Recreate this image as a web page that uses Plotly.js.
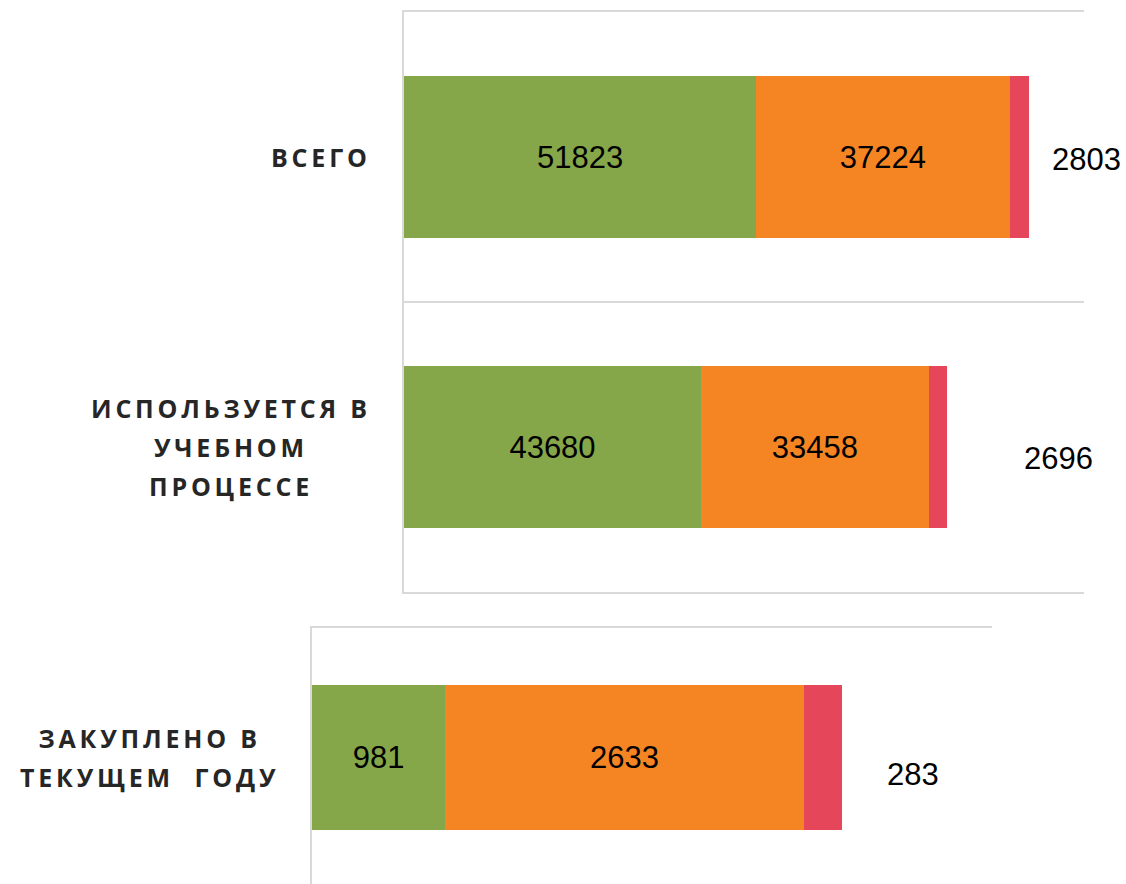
<!DOCTYPE html>
<html>
<head>
<meta charset="utf-8">
<script src="https://cdn.plot.ly/plotly-3.0.1.min.js"></script>
<style>html,body{margin:0;padding:0;background:#fff;}</style>
</head>
<body>
<div id="chart" style="width:1126px;height:884px;"></div>
<script>
// ---- data ----
var topCategories = ['ВСЕГО', 'ИСПОЛЬЗУЕТСЯ В УЧЕБНОМ ПРОЦЕССЕ'];
var topLabelLines = [['ВСЕГО'], ['ИСПОЛЬЗУЕТСЯ В', 'УЧЕБНОМ', 'ПРОЦЕССЕ']];
var topGreen  = [51823, 43680];
var topOrange = [37224, 33458];
var topRed    = [2803, 2696];

var bottomCategories = ['ЗАКУПЛЕНО В ТЕКУЩЕМ ГОДУ'];
var bottomLabelLines = [['ЗАКУПЛЕНО В', 'ТЕКУЩЕМ\u00a0 ГОДУ']];
var bottomGreen  = [981];
var bottomOrange = [2633];
var bottomRed    = [283];

// ---- styles ----
var GREEN = '#86A749', ORANGE = '#F58423', RED = '#E6465A';
var GRID = '#d9d9d9';
var numFont = {family: 'Arial, "Liberation Sans", sans-serif', size: 31, color: '#000000'};
var catFont = {family: '"Open Sans", sans-serif', size: 30, color: '#262626', weight: 'bold'};

function barTrace(x, y, color, withText, xa, ya) {
  var t = {
    type: 'bar', orientation: 'h', x: x, y: y,
    marker: {color: color, line: {width: 0}},
    xaxis: xa, yaxis: ya, hoverinfo: 'none'
  };
  if (withText) {
    t.text = x.map(String);
    t.textposition = 'inside';
    t.insidetextanchor = 'middle';
    t.textangle = 0;
    t.constraintext = 'none';
    t.insidetextfont = numFont;
  } else {
    t.textposition = 'none';
  }
  return t;
}

var traces = [
  barTrace(topGreen, topCategories, GREEN, true, 'x', 'y'),
  barTrace(topOrange, topCategories, ORANGE, true, 'x', 'y'),
  barTrace(topRed, topCategories, RED, false, 'x', 'y'),
  barTrace(bottomGreen, bottomCategories, GREEN, true, 'x2', 'y2'),
  barTrace(bottomOrange, bottomCategories, ORANGE, true, 'x2', 'y2'),
  barTrace(bottomRed, bottomCategories, RED, false, 'x2', 'y2')
];

function catText(lines) {
  return lines.map(function (l) {
    return '<span style="font-size:25px;letter-spacing:3.8px">' + l + '</span>';
  }).join('<br>');
}

var annotations = [];
// category labels
topCategories.forEach(function (c, i) {
  annotations.push({xref: 'x domain', yref: 'y', x: 0, y: c, xanchor: 'right', yanchor: 'middle',
    xshift: -31, align: 'center', showarrow: false, text: catText(topLabelLines[i]), font: catFont});
});
bottomCategories.forEach(function (c, i) {
  annotations.push({xref: 'x2 domain', yref: 'y2', x: 0, y: c, xanchor: 'right', yanchor: 'middle',
    xshift: -31, align: 'center', showarrow: false, text: catText(bottomLabelLines[i]), font: catFont});
});
// red value labels, placed beyond the end of each stacked bar
var topShiftX = [21, 75], topShiftY = [-3, -12];
topCategories.forEach(function (c, i) {
  annotations.push({xref: 'x', yref: 'y', x: topGreen[i] + topOrange[i] + topRed[i], y: c,
    xanchor: 'left', yanchor: 'middle', xshift: topShiftX[i], yshift: topShiftY[i],
    showarrow: false, text: String(topRed[i]), font: numFont});
});
var botShiftX = [43], botShiftY = [-17];
bottomCategories.forEach(function (c, i) {
  annotations.push({xref: 'x2', yref: 'y2', x: bottomGreen[i] + bottomOrange[i] + bottomRed[i], y: c,
    xanchor: 'left', yanchor: 'middle', xshift: botShiftX[i], yshift: botShiftY[i],
    showarrow: false, text: String(bottomRed[i]), font: numFont});
});

var W = 1126, H = 884;
var frameX = {showgrid: false, zeroline: false, showticklabels: false, ticks: '', fixedrange: true,
  showline: true, mirror: true, linecolor: GRID, linewidth: 2};
var catY = {type: 'category', tickson: 'boundaries', showgrid: true, gridcolor: GRID, gridwidth: 2,
  showline: true, linecolor: GRID, linewidth: 2, showticklabels: false, ticks: '', zeroline: false, fixedrange: true};

var layout = {
  width: W, height: H,
  margin: {l: 0, r: 0, t: 0, b: 0},
  paper_bgcolor: '#ffffff', plot_bgcolor: 'rgba(0,0,0,0)',
  barmode: 'stack', bargap: 0.44, showlegend: false,
  xaxis: Object.assign({}, frameX, {domain: [404 / W, 1084 / W], range: [0, 100000], anchor: 'y'}),
  yaxis: Object.assign({}, catY, {domain: [1 - 592 / H, 1 - 12 / H], range: [1.5, -0.5], anchor: 'x'}),
  xaxis2: Object.assign({}, frameX, {domain: [312 / W, 992 / W], range: [0, 5000], anchor: 'y2'}),
  yaxis2: Object.assign({}, catY, {domain: [0, 1 - 628 / H], range: [0.49, -0.5], anchor: 'x2'}),
  annotations: annotations
};

Plotly.newPlot('chart', traces, layout, {displayModeBar: false, staticPlot: true});
</script>
</body>
</html>
